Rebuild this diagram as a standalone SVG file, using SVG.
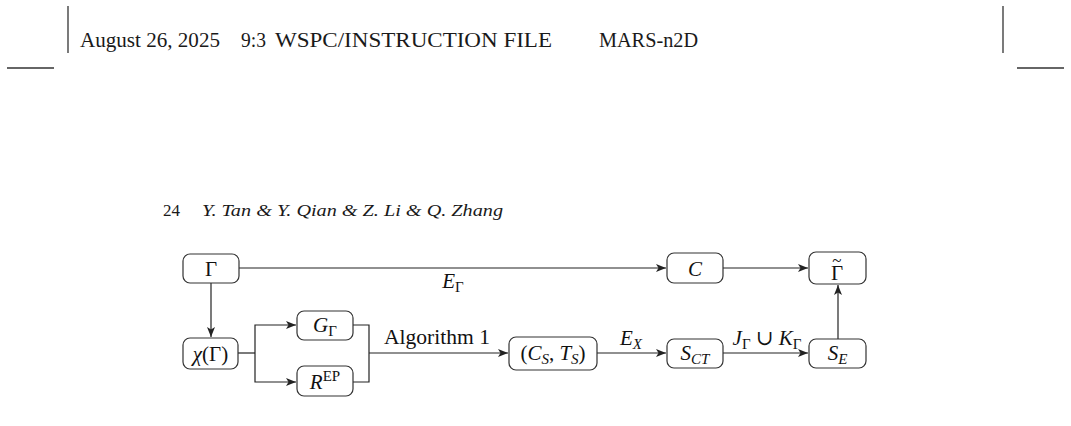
<svg xmlns="http://www.w3.org/2000/svg" width="1071" height="426" viewBox="0 0 1071 426">
<style>
.hd{font-family:"Liberation Serif","DejaVu Serif",serif;font-size:20px;fill:#1a1a1a}
.rh{font-family:"Liberation Serif","DejaVu Serif",serif;font-size:16px;fill:#1a1a1a}
.rule{stroke:#333;stroke-width:1.3;fill:none}
.box{fill:#fff;stroke:#333;stroke-width:1.2}
.t{font-family:"Liberation Serif","DejaVu Serif",serif;font-size:21px;fill:#111;text-anchor:middle}
.i{font-style:italic}
.s{font-size:15px}
.e{stroke:#222;stroke-width:1.2;fill:none}
.a{marker-end:url(#ah)}
</style>
<defs>
<marker id="ah" markerUnits="userSpaceOnUse" markerWidth="12" markerHeight="10" refX="10" refY="5" orient="auto">
<path d="M0,1 L10,5 L0,9 L2.5,5 Z" fill="#222"/>
</marker>
</defs>
<g id="header">
<line class="rule" x1="68" y1="6" x2="68" y2="53"/>
<line class="rule" x1="7" y1="68" x2="54" y2="68"/>
<line class="rule" x1="1003" y1="6" x2="1003" y2="53"/>
<line class="rule" x1="1017" y1="68" x2="1064" y2="68"/>
<text class="hd" x="80" y="47" textLength="140" lengthAdjust="spacingAndGlyphs">August 26, 2025</text>
<text class="hd" x="241" y="47" textLength="25" lengthAdjust="spacingAndGlyphs">9:3</text>
<text class="hd" x="275" y="47" textLength="277" lengthAdjust="spacingAndGlyphs">WSPC/INSTRUCTION FILE</text>
<text class="hd" x="599" y="47" textLength="99" lengthAdjust="spacingAndGlyphs">MARS-n2D</text>
</g>
<g id="running-head">
<text class="rh" x="163" y="216" textLength="17" lengthAdjust="spacingAndGlyphs">24</text>
<text class="rh i" x="202" y="216" textLength="301" lengthAdjust="spacingAndGlyphs">Y. Tan &amp; Y. Qian &amp; Z. Li &amp; Q. Zhang</text>
</g>
<g id="connectors">
<line class="e a" x1="239" y1="268" x2="666" y2="268"/>
<line class="e a" x1="723" y1="268" x2="808" y2="268"/>
<line class="e a" x1="211" y1="283" x2="211" y2="337"/>
<polyline class="e" points="238,353 255,353"/>
<polyline class="e a" points="255,353 255,325 296,325"/>
<polyline class="e a" points="255,353 255,382 296,382"/>
<polyline class="e" points="353,325 369,325 369,382 353,382"/>
<line class="e a" x1="369" y1="353" x2="508" y2="353"/>
<line class="e a" x1="597" y1="353" x2="666" y2="353"/>
<line class="e a" x1="723" y1="353" x2="808" y2="353"/>
<line class="e a" x1="838" y1="339" x2="838" y2="285"/>
<text class="t" x="453" y="288"><tspan class="i">E</tspan><tspan class="s" dy="4">Γ</tspan></text>
<text class="t" x="437" y="344" textLength="106" lengthAdjust="spacingAndGlyphs">Algorithm 1</text>
<text class="t" x="631" y="345"><tspan class="i">E</tspan><tspan class="s i" dy="4">X</tspan></text>
<text class="t" x="767" y="345"><tspan class="i">J</tspan><tspan class="s" dy="4">Γ</tspan><tspan dy="-4"> ∪ </tspan><tspan class="i">K</tspan><tspan class="s" dy="4">Γ</tspan></text>
</g>
<g id="n-gamma">
<rect class="box" x="183" y="254" width="56" height="29" rx="7"/>
<text class="t" x="211" y="276">Γ</text>
</g>
<g id="n-chi">
<rect class="box" x="183" y="338" width="55" height="31" rx="7"/>
<text class="t" x="210.5" y="361"><tspan class="i">χ</tspan>(Γ)</text>
</g>
<g id="n-G">
<rect class="box" x="297" y="311" width="56" height="29" rx="7"/>
<text class="t" x="325" y="332"><tspan class="i">G</tspan><tspan class="s" dy="4">Γ</tspan></text>
</g>
<g id="n-R">
<rect class="box" x="297" y="366" width="56" height="30" rx="7"/>
<text class="t" x="325" y="389"><tspan class="i">R</tspan><tspan class="s" dy="-8">EP</tspan></text>
</g>
<g id="n-CSTS">
<rect class="box" x="509" y="337" width="88" height="33" rx="7"/>
<text class="t" x="553" y="360">(<tspan class="i">C</tspan><tspan class="s i" dy="4">S</tspan><tspan dy="-4">, </tspan><tspan class="i">T</tspan><tspan class="s i" dy="4">S</tspan><tspan dy="-4">)</tspan></text>
</g>
<g id="n-SCT">
<rect class="box" x="667" y="339" width="56" height="29" rx="7"/>
<text class="t" x="695" y="360"><tspan class="i">S</tspan><tspan class="s i" dy="4">CT</tspan></text>
</g>
<g id="n-SE">
<rect class="box" x="809" y="339" width="57" height="29" rx="7"/>
<text class="t" x="837.5" y="360"><tspan class="i">S</tspan><tspan class="s i" dy="4">E</tspan></text>
</g>
<g id="n-C">
<rect class="box" x="667" y="253" width="56" height="30" rx="7"/>
<text class="t i" x="695" y="276">C</text>
</g>
<g id="n-gammatilde">
<rect class="box" x="809" y="252" width="57" height="32" rx="7"/>
<text class="t" x="831.1" y="280" style="text-anchor:start">Γ<tspan dx="-11" dy="-14" style="font-size:17px">~</tspan></text>
</g>
</svg>
